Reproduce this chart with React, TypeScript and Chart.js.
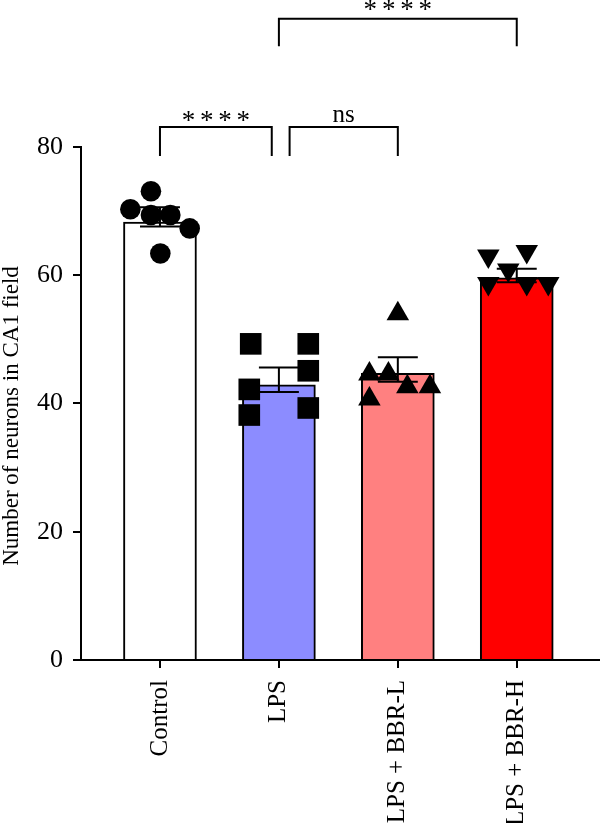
import { useEffect, useRef } from 'react';
import { Chart, registerables } from 'chart.js';

Chart.register(...registerables);

// Groups and bar heights
const groups = ['Control', 'LPS', 'LPS + BBR-L', 'LPS + BBR-H'];
const barMeans = [68.3, 42.9, 44.7, 59.6];
const errLower = [67.6, 41.8, 43.4, 58.9];
const errUpper = [70.6, 45.6, 47.2, 61.0];

// Individual animals per group
const controlValues = [73.1, 70.3, 69.4, 69.4, 67.3, 63.4];
const lpsValues = [49.3, 49.3, 45.1, 42.2, 38.2, 39.3];
const bbrLowValues = [54.0, 44.6, 44.6, 42.6, 42.6, 40.7];
const bbrHighValues = [63.0, 63.7, 60.8, 58.7, 58.7, 58.7];

// Horizontal spread of the points inside each group (category units)
const controlSpread = [-0.076, -0.249, -0.076, 0.087, 0.25, 0.003];
const lpsSpread = [-0.237, 0.247, 0.247, -0.249, -0.249, 0.247];
const bbrLowSpread = [0, -0.239, -0.079, 0.08, 0.27, -0.239];
const bbrHighSpread = [-0.239, 0.084, -0.071, -0.239, 0.084, 0.265];

const yTicks = [0, 20, 40, 60, 80];
const yTitle = 'Number of neurons in CA1 field';

// Pairwise comparisons: bracket ends (category units), bracket level, label
const comparisons = [
  { from: 0, to: 0.94, level: 83.1, drop: 4.5, label: '****', lift: 0 },
  { from: 1.09, to: 2.0, level: 83.1, drop: 4.5, label: 'ns', lift: 5 },
  { from: 1.0, to: 3.0, level: 100.0, drop: 4.3, label: '****', lift: 3 },
];

const FONT = "'Liberation Serif', 'Times New Roman', serif";
const BLACK = '#000000';
const fills = ['#ffffff', '#8c8cff', '#ff8080', '#ff0000'];

const noPadding = (s: any) => {
  s.paddingTop = 0;
  s.paddingBottom = 0;
  s.paddingLeft = 0;
  s.paddingRight = 0;
};

// Writes a label centred on cx; asterisk runs are spread out evenly
const drawLabel = (ctx: CanvasRenderingContext2D, text: string, cx: number, baseline: number) => {
  if (/^\*+$/.test(text)) {
    const step = 18.3;
    ctx.font = `27px ${FONT}`;
    const start = cx - ((text.length - 1) * step) / 2;
    for (let i = 0; i < text.length; i++) ctx.fillText('*', start + i * step, baseline + 2);
  } else {
    ctx.font = `25px ${FONT}`;
    ctx.fillText(text, cx, baseline);
  }
};

export default function App() {
  const ref = useRef<HTMLCanvasElement>(null);

  useEffect(() => {
    const canvas = ref.current;
    if (!canvas) return;

    const series = [
      { index: 0, values: controlValues, spread: controlSpread, style: 'circle', radius: 10.3, rotation: 0 },
      { index: 1, values: lpsValues, spread: lpsSpread, style: 'rect', radius: 15.3, rotation: 0 },
      { index: 2, values: bbrLowValues, spread: bbrLowSpread, style: 'triangle', radius: 13, rotation: 0 },
      { index: 3, values: bbrHighValues, spread: bbrHighSpread, style: 'triangle', radius: 13, rotation: 180 },
    ];

    const overlay = {
      id: 'overlay',
      afterDatasetDraw(chart: any, args: any) {
        if (args.index !== 0) return;
        const { ctx } = chart;
        const x = chart.scales.x;
        const y = chart.scales.y;
        ctx.save();
        ctx.strokeStyle = BLACK;
        ctx.lineWidth = 2;
        groups.forEach((_, i) => {
          const px = x.getPixelForValue(i);
          const capL = x.getPixelForValue(i - 0.168);
          const capR = x.getPixelForValue(i + 0.168);
          const lo = y.getPixelForValue(errLower[i]);
          const hi = y.getPixelForValue(errUpper[i]);
          ctx.beginPath();
          ctx.moveTo(px, lo);
          ctx.lineTo(px, hi);
          ctx.moveTo(capL, lo);
          ctx.lineTo(capR, lo);
          ctx.moveTo(capL, hi);
          ctx.lineTo(capR, hi);
          ctx.stroke();
        });
        ctx.restore();
      },
      afterDraw(chart: any) {
        const { ctx, chartArea } = chart;
        const x = chart.scales.x;
        const y = chart.scales.y;
        ctx.save();
        ctx.strokeStyle = BLACK;
        ctx.fillStyle = BLACK;
        ctx.lineWidth = 2;

        // y axis line, only over the tick range
        ctx.beginPath();
        ctx.moveTo(chartArea.left, y.getPixelForValue(0) + 1);
        ctx.lineTo(chartArea.left, y.getPixelForValue(yTicks[yTicks.length - 1]) - 1);
        ctx.stroke();

        // significance brackets
        ctx.textAlign = 'center';
        ctx.textBaseline = 'alphabetic';
        comparisons.forEach((c) => {
          const x1 = x.getPixelForValue(c.from);
          const x2 = x.getPixelForValue(c.to);
          const yl = y.getPixelForValue(c.level);
          const yb = y.getPixelForValue(c.level - c.drop);
          ctx.beginPath();
          ctx.moveTo(x1, yb);
          ctx.lineTo(x1, yl);
          ctx.lineTo(x2, yl);
          ctx.lineTo(x2, yb);
          ctx.stroke();
          drawLabel(ctx, c.label, (x1 + x2) / 2, yl - c.lift);
        });

        // y axis title
        ctx.translate(12, 416);
        ctx.rotate(-Math.PI / 2);
        ctx.textAlign = 'center';
        ctx.textBaseline = 'middle';
        ctx.font = `23px ${FONT}`;
        ctx.fillText(yTitle, 0, 0);
        ctx.restore();
      },
    };

    const chart = new Chart(canvas, {
      type: 'bar',
      data: {
        datasets: [
          {
            type: 'bar',
            data: groups.map((_, i) => ({ x: i, y: barMeans[i] })),
            backgroundColor: fills,
            borderColor: BLACK,
            borderWidth: 2,
            barThickness: 73,
            order: 2,
          } as any,
          ...series.map((s) => ({
            type: 'scatter',
            data: s.values.map((v, j) => ({ x: s.index + s.spread[j], y: v })),
            pointStyle: s.style,
            pointRadius: s.radius,
            pointRotation: s.rotation,
            pointBackgroundColor: BLACK,
            pointBorderWidth: 0,
            order: 1,
          } as any)),
        ],
      },
      options: {
        responsive: false,
        maintainAspectRatio: false,
        devicePixelRatio: 1,
        animation: false,
        layout: { padding: 0, autoPadding: false },
        plugins: {
          legend: { display: false },
          tooltip: { enabled: false },
        },
        scales: {
          x: {
            type: 'linear',
            min: -0.664,
            max: 3.7,
            offset: false,
            afterBuildTicks: (s: any) => {
              s.ticks = groups.map((_, i) => ({ value: i }));
            },
            afterFit: (s: any) => {
              s.height = 163;
              noPadding(s);
            },
            ticks: {
              callback: (v: any) => groups[v] ?? '',
              minRotation: 90,
              maxRotation: 90,
              autoSkip: false,
              font: { family: FONT, size: 25 },
              color: BLACK,
              padding: 12,
            },
            grid: {
              offset: false,
              drawOnChartArea: false,
              drawTicks: true,
              tickLength: 8,
              color: BLACK,
              lineWidth: 2,
            },
            border: { display: true, color: BLACK, width: 2 },
          },
          y: {
            type: 'linear',
            min: 0,
            max: 102.92,
            afterBuildTicks: (s: any) => {
              s.ticks = yTicks.map((v) => ({ value: v }));
            },
            afterFit: (s: any) => {
              s.width = 81;
              noPadding(s);
            },
            ticks: {
              font: { family: FONT, size: 26 },
              color: BLACK,
              padding: 10,
            },
            grid: {
              drawOnChartArea: false,
              drawTicks: true,
              tickLength: 8,
              color: BLACK,
              lineWidth: 2,
            },
            border: { display: false },
          },
        },
      } as any,
      plugins: [overlay],
    });

    return () => chart.destroy();
  }, []);

  return (
    <div style={{ position: 'fixed', left: 0, top: 0, width: 600, height: 823, background: '#ffffff' }}>
      <canvas ref={ref} width={600} height={823} />
    </div>
  );
}
